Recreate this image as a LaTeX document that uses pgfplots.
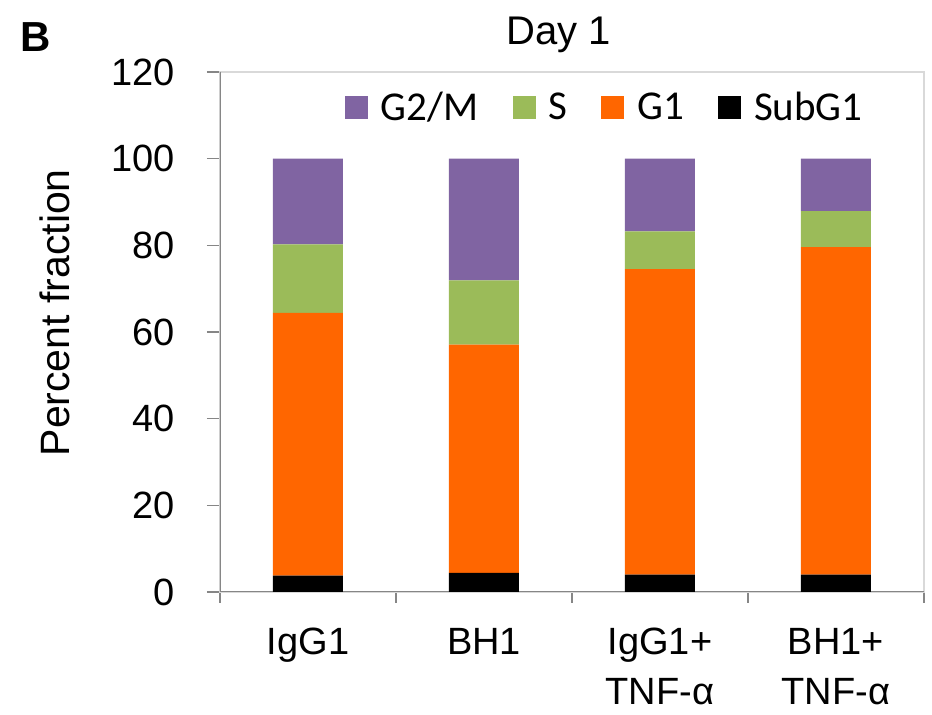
\documentclass[border=0pt]{standalone}
\usepackage{fontspec}
\setmainfont{Liberation Sans}
\newfontfamily\carlito{Carlito}
\usepackage{pgfplots}
\pgfplotsset{compat=1.18}
\definecolor{cG2}{HTML}{8064A2}
\definecolor{cS}{HTML}{9BBB59}
\definecolor{cG1}{HTML}{FF6600}
\definecolor{cSub}{HTML}{000000}
\definecolor{axgray}{HTML}{868686}
\definecolor{frgray}{HTML}{D9D9D9}
\begin{document}
\begin{tikzpicture}
\path[use as bounding box] (0,0) rectangle (466pt,357.5pt);
\begin{axis}[
  at={(110pt,61.5pt)}, anchor=south west,
  scale only axis, width=352pt, height=260pt,
  xmin=-0.5, xmax=3.5, ymin=0, ymax=120,
  ybar stacked, bar width=35pt,
  ytick={0,20,...,120},
  xtick={0,1,2,3},
  xticklabels={IgG1, BH1, {IgG1+\\TNF-α}, {BH1+\\TNF-α}},
  minor xtick={-0.5,0.5,1.5,2.5,3.5},
  tick align=outside,
  xtick pos=bottom, ytick pos=left,
  major x tick style={draw=none},
  minor tick length=5.5pt,
  major tick length=6.5pt,
  tick style={axgray, line width=0.7pt},
  axis line style={frgray, line width=0.7pt},
  /pgf/number format/assume math mode=true,
  yticklabel style={font=\fontsize{19}{23}\selectfont, anchor=east, xshift=-12.5pt},
  xticklabel style={font=\fontsize{19}{25}\selectfont, align=center, anchor=north, yshift=-8pt},
  ylabel={Percent fraction},
  ylabel style={font=\fontsize{20.5}{24}\selectfont, at={(axis description cs:-0.234,0.537)}, anchor=center, rotate=0},
  legend style={at={(axis description cs:0.548,0.931)}, anchor=center, draw=none, fill=none,
    font=\carlito\fontsize{20.5}{24}\selectfont, legend columns=4,
    /tikz/every odd column/.append style={column sep=4.5pt},
    /tikz/every even column/.append style={column sep=15pt}},
  legend image code/.code={\fill[#1] (0pt,-5.75pt) rectangle (11.5pt,5.75pt);},
  reverse legend,
  legend cell align=left,
]
\addplot[fill=cSub, draw=none] coordinates {(0,3.8) (1,4.4) (2,4.0) (3,4.0)};
\addplot[fill=cG1, draw=none] coordinates {(0,60.6) (1,52.7) (2,70.5) (3,75.6)};
\addplot[fill=cS, draw=none] coordinates {(0,15.8) (1,14.8) (2,8.7) (3,8.3)};
\addplot[fill=cG2, draw=none] coordinates {(0,19.8) (1,28.1) (2,16.8) (3,12.1)};
\legend{SubG1, G1, S, G2/M}
\draw[axgray, line width=0.8pt] (rel axis cs:0,1) -- (rel axis cs:0,0) -- (rel axis cs:1,0);
\end{axis}
\node[font=\fontsize{20}{24}\selectfont] at (279.5pt,340pt) {Day 1};
\node[font=\bfseries\fontsize{21}{25}\selectfont] at (18pt,339pt) {B};
\end{tikzpicture}
\end{document}
